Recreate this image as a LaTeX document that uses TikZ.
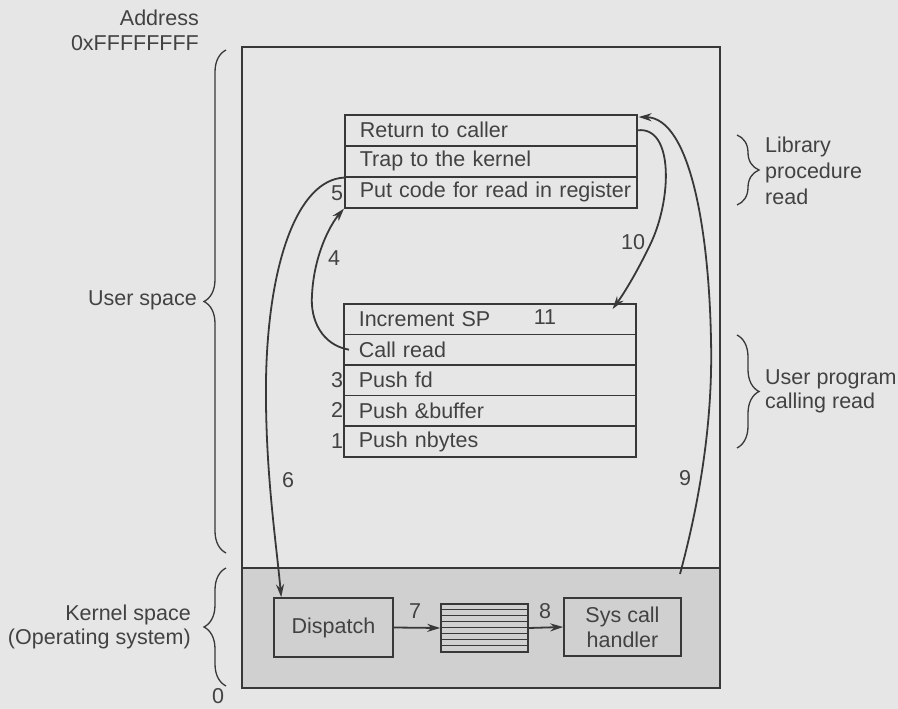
\documentclass[tikz,border=0pt]{standalone}
\usepackage{fontspec}
\setmainfont{Liberation Sans}
\usetikzlibrary{arrows.meta,decorations.pathreplacing,calc}
\definecolor{bg}{HTML}{E6E6E6}
\definecolor{kern}{HTML}{D0D0D0}
\definecolor{ink}{HTML}{383838}
\definecolor{txt}{HTML}{424242}
\begin{document}
\begin{tikzpicture}[x=1pt,y=-1pt,
  font=\fontsize{21.5}{25}\selectfont,
  row/.style={draw=ink, line width=1.6pt, minimum height=31pt, text width=292pt,
    inner xsep=0pt, inner ysep=0pt, align=left, anchor=north west, text=txt,
    execute at begin node={\hspace*{15pt}}},
  rowb/.style={row, minimum height=30.6pt},
  num/.style={text=txt, inner sep=0pt},
  lbl/.style={text=txt, inner sep=0pt},
  box/.style={draw=ink, line width=1.6pt, text=txt, align=center, inner sep=0pt, fill=kern},
  arr/.style={draw=ink, line width=1.8pt, -{Stealth[length=13pt,width=8pt]}},
  brc/.style={draw=ink, line width=1.3pt, decorate, decoration={brace, amplitude=22pt}}]
\fill[bg] (0,0) rectangle (898,709);
\useasboundingbox (0,0) rectangle (898,709);
% outer memory rectangle and kernel region
\fill[kern] (242,568) rectangle (720,688);
\draw[ink, line width=1.6pt] (242,47) rectangle (720,688);
\draw[ink, line width=1.6pt] (242,568) -- (720,568);
% library procedure rows
\node[row] (ret) at (344,114) {Return to caller};
\node[row] (trap) at (344,145) {Trap to the kernel};
\node[row] (put) at (344,176) {Put code for read in register};
% user program rows
\node[rowb] (inc) at (343,303) {Increment SP};
\node[rowb] (call) at (343,333.6) {Call read};
\node[rowb] (pfd) at (343,364.2) {Push fd};
\node[rowb] (pbuf) at (343,394.8) {Push \&buffer};
\node[rowb] (pnb) at (343,425.4) {Push nbytes};
% kernel boxes
\node[box, minimum width=119pt, minimum height=59pt] (disp) at (333.5,627.5) {Dispatch};
\node[draw=ink, line width=1.6pt, fill=kern, minimum width=87pt, minimum height=48pt, inner sep=0pt] (stk) at (484.5,628) {};
\foreach \i in {1,...,7} \draw[ink, line width=1.2pt] ($(stk.north west)+(0,\i*6)$) -- ++(87,0);
\node[box, minimum width=117pt, minimum height=58pt] (sys) at (622.5,627) {Sys call\\handler};
% step numbers
\node[num] (n1) at (337,441) {1};
\node[num] (n2) at (337,410) {2};
\node[num] (n3) at (337,380) {3};
\node[num] (n4) at (334,258) {4};
\node[num] (n5) at (337,193) {5};
\node[num] (n6) at (288,480) {6};
\node[num] (n7) at (415,611) {7};
\node[num] (n8) at (545,611) {8};
\node[num] (n9) at (685,478) {9};
\node[num] (n10) at (633,242) {10};
\node[num] (n11) at (545,317) {11};
% connectors
\draw[arr] (disp.east) -- (stk.west);
\draw[arr] (stk.east) -- (sys.west);
\draw[arr] (trap.south west) .. controls (298,180) and (268,262) .. (266,380)
  .. controls (265,470) and (276,540) .. ([xshift=8pt]disp.north west);
\draw[arr] ($(call.west)+(6,0)$) .. controls (322,345) and (310,320) .. (312,295)
  .. controls (314,255) and (330,225) .. (put.south west);
\draw[arr] (ret.east) .. controls (674,126) and (672,200) .. (650,245)
  .. controls (638,270) and (625,292) .. ($(inc.north east)+(-24,6)$);
\coordinate (s9) at (680,574);
\draw[arr] (s9) .. controls (700,500) and (713,420) .. (711,340)
  .. controls (709,230) and (690,118) .. ($(ret.north east)+(1,3)$);
% braces
\draw[brc] (226,553) -- (226,50);
\draw[brc] (226,686) -- (226,568);
\draw[brc] (737,135) -- (737,205);
\draw[brc] (737,335) -- (737,448);
% labels
\node[lbl, align=right, anchor=east, font=\fontsize{21.5}{25}\selectfont] (addr) at (199,30) {Address\\0xFFFFFFFF};
\node[lbl, anchor=east] (us) at (197,300) {User space};
\node[lbl, align=right, anchor=east, font=\fontsize{21.5}{24}\selectfont] (ks) at (191,627) {Kernel space\\(Operating system)};
\node[lbl] (zero) at (218,696) {0};
\node[lbl, align=left, anchor=west, font=\fontsize{21.5}{26}\selectfont] (lib) at (765,171) {Library\\procedure\\read};
\node[lbl, align=left, anchor=west, font=\fontsize{21.5}{24}\selectfont] (up) at (765,391) {User program\\calling read};
\end{tikzpicture}
\end{document}
